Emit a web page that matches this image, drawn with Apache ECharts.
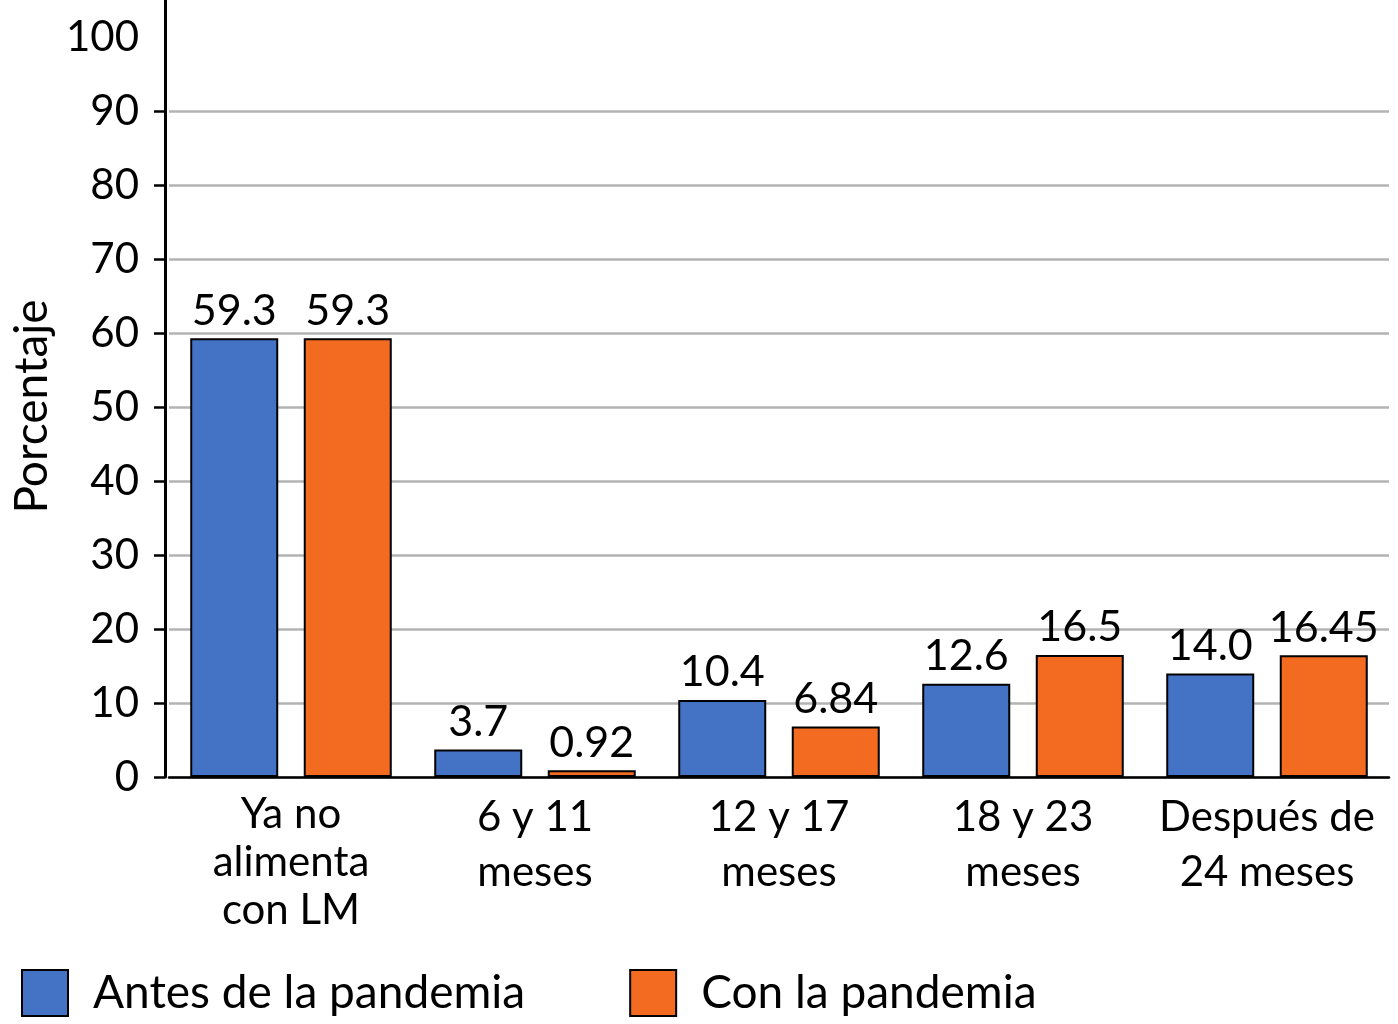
<!DOCTYPE html>
<html>
<head>
<meta charset="utf-8">
<script src="https://cdn.jsdelivr.net/npm/echarts@6/dist/echarts.min.js"></script>
<style>html,body{margin:0;padding:0;background:#fff}#c{width:1398px;height:1024px}</style>
</head>
<body>
<div id="c"></div>
<script>
const categories = ['Ya no\nalimenta\ncon LM', '6 y 11\nmeses', '12 y 17\nmeses', '18 y 23\nmeses', 'Después de\n24 meses'];
const seriesNames = ['Antes de la pandemia', 'Con la pandemia'];
const antes = [59.3, 3.7, 10.4, 12.6, 14.0];
const antesLabels = ['59.3', '3.7', '10.4', '12.6', '14.0'];
const con = [59.3, 0.92, 6.84, 16.5, 16.45];
const conLabels = ['59.3', '0.92', '6.84', '16.5', '16.45'];
const yTickLabels = [0, 10, 20, 30, 40, 50, 60, 70, 80, 90, 100];
const yTicks = [0, 10, 20, 30, 40, 50, 60, 70, 80, 90];

const FONT = 'Lato';
const chart = echarts.init(document.getElementById('c'));
chart.setOption({
  animation: false,
  textStyle: { fontFamily: FONT, color: '#000' },
  grid: { left: 169, right: 9, top: 0, bottom: 247 },
  legend: {
    left: 16, top: 964,
    itemWidth: 46, itemHeight: 46, itemGap: 104,
    icon: 'rect',
    textStyle: { fontFamily: FONT, fontSize: 46, color: '#000', padding: [0, 0, 0, 20] },
    itemStyle: { borderColor: '#000', borderWidth: 2 },
    data: seriesNames
  },
  xAxis: {
    type: 'category',
    data: categories.map((c, i) => ({ value: c, textStyle: { lineHeight: i === 0 ? 48 : 55 } })),
    axisLine: { lineStyle: { color: '#000', width: 2.5 } },
    axisTick: { show: false },
    axisLabel: { color: '#000', fontFamily: FONT, fontSize: 42, lineHeight: 48, margin: 13, interval: 0 }
  },
  yAxis: {
    type: 'value',
    min: 0, max: 105,
    offset: 4,
    name: 'Porcentaje',
    nameLocation: 'middle',
    nameGap: 106,
    nameTextStyle: { fontFamily: FONT, fontSize: 46, color: '#000', padding: [0, 36, 0, 0] },
    axisLine: { show: true, lineStyle: { color: '#000', width: 3 } },
    axisTick: { show: true, length: 11, lineStyle: { color: '#000', width: 2.5 }, customValues: yTicks },
    axisLabel: { color: '#000', fontFamily: FONT, fontSize: 42, margin: 26, customValues: yTickLabels },
    splitLine: { show: true, lineStyle: { color: '#b3b3b3', width: 2.5 } }
  },
  series: [
    {
      name: seriesNames[0], type: 'bar', data: antes,
      barWidth: 88, barGap: '29%',
      itemStyle: { color: '#4472C4', borderColor: '#000', borderWidth: 2 },
      label: { show: true, position: 'top', distance: 6, fontFamily: FONT, fontSize: 43, color: '#000',
        formatter: p => antesLabels[p.dataIndex] }
    },
    {
      name: seriesNames[1], type: 'bar', data: con,
      barWidth: 88,
      itemStyle: { color: '#F26B21', borderColor: '#000', borderWidth: 2 },
      label: { show: true, position: 'top', distance: 6, fontFamily: FONT, fontSize: 43, color: '#000',
        formatter: p => conLabels[p.dataIndex] }
    }
  ]
});
</script>
</body>
</html>
